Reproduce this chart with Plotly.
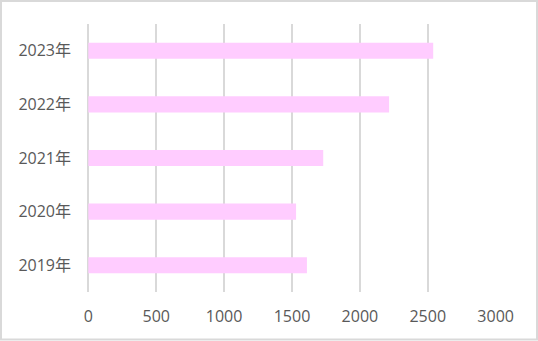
import plotly.graph_objects as go

years = ["2019年", "2020年", "2021年", "2022年", "2023年"]
values = [1610, 1530, 1730, 2215, 2540]
x_ticks = [0, 500, 1000, 1500, 2000, 2500, 3000]

W, H = 538, 341
L, R, T, B = 88, 42, 24, 49
pw, ph = W - L - R, H - T - B

fig = go.Figure(go.Bar(
    x=values, y=years, orientation="h",
    marker=dict(color="#FFCCFF", line=dict(width=0)),
    width=0.3,
))

font = dict(family="'Open Sans', 'Noto Sans CJK JP', sans-serif", size=16, color="#595959")

fig.update_layout(
    width=W, height=H,
    margin=dict(l=L, r=R, t=T, b=B, pad=0),
    paper_bgcolor="white", plot_bgcolor="white",
    showlegend=False,
    font=font,
    xaxis=dict(range=[-2.5, 3002.5], tickvals=x_ticks, showgrid=True, gridcolor="#D9D9D9",
               gridwidth=2, zeroline=True, zerolinecolor="#D9D9D9", zerolinewidth=2,
               showline=False, ticks="",
               ticklabelstandoff=13, tickfont=font),
    yaxis=dict(showgrid=False, zeroline=False, showline=False, ticks="",
               range=[-0.5, 4.5], ticklabelstandoff=16, tickfont=font),
)

# outer chart border
x0 = (1 - L) / pw
x1 = (537 - L) / pw
y0 = (T + ph - 339.5) / ph
y1 = (T + ph - 1) / ph
fig.add_shape(type="rect", xref="paper", yref="paper", x0=x0, x1=x1, y0=y0, y1=y1,
              line=dict(color="#D9D9D9", width=2), layer="below")

fig.write_html("out.html")
